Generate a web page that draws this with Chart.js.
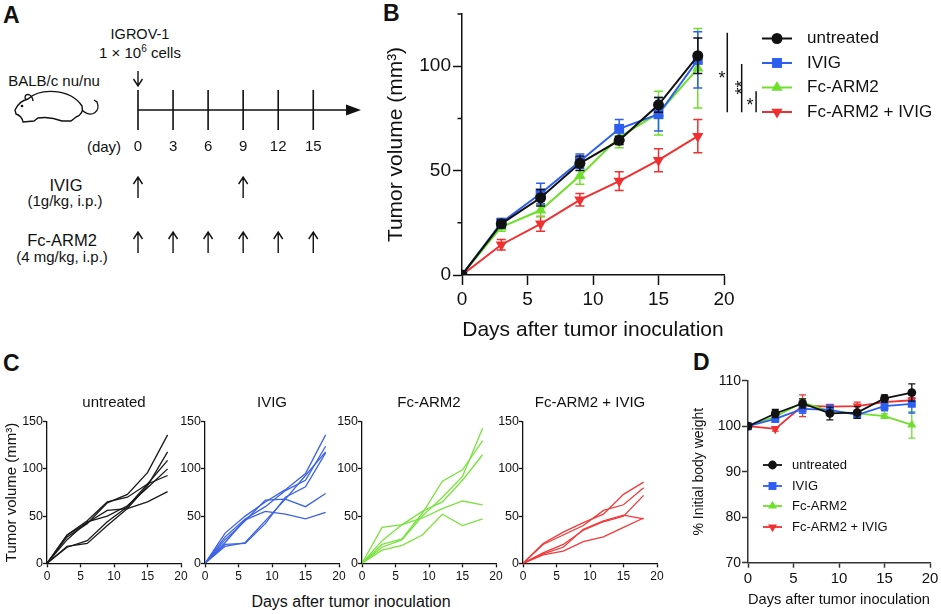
<!DOCTYPE html>
<html lang="en">
<head>
    <meta charset="UTF-8">
    <title>Fc-ARM2 and IVIG in IGROV-1 xenografts</title>
    <script src="https://cdn.jsdelivr.net/npm/chart.js"></script>
    <style>
        body { margin: 0; background: #fff; }
        #page { position: relative; width: 941px; height: 614px; overflow: hidden; color: #111;
                font-family: "Liberation Sans", Arial, sans-serif; }
        #page canvas { position: absolute; }
        .t { position: absolute; transform: translate(-50%, -50%); line-height: 1; white-space: nowrap; font-size: 15px; }
        .t sup { font-size: 10px; line-height: 0; }
        .panel { position: absolute; font-weight: bold; font-size: 23px; line-height: 1; }
    </style>
</head>
<body>
<div id="page">
    <div class="panel" style="left:3px;top:4px">A</div>
    <div class="panel" style="left:383px;top:2px">B</div>
    <div class="panel" style="left:3px;top:352px">C</div>
    <div class="panel" style="left:693px;top:351px">D</div>

    <div class="t" style="left:140px;top:34px;font-size:14.5px">IGROV-1</div>
    <div class="t" style="left:140px;top:52px">1 × 10<sup>6</sup> cells</div>
    <div class="t" style="left:54px;top:80px">BALB/c nu/nu</div>
    <div class="t" style="left:104px;top:146px">(day)</div>
    <div class="t" style="left:66px;top:185px;font-size:16.5px">IVIG</div>
    <div class="t" style="left:65px;top:200px">(1g/kg, i.p.)</div>
    <div class="t" style="left:62px;top:240px;font-size:16.5px">Fc-ARM2</div>
    <div class="t" style="left:62px;top:256px">(4 mg/kg, i.p.)</div>
    <div class="t" style="left:351px;top:602px;font-size:16px">Days after tumor inoculation</div>

    <canvas id="cA" width="370" height="290" style="left:0;top:0"></canvas>
    <canvas id="cB" width="571" height="345" style="left:370px;top:0"></canvas>
    <canvas id="cD" width="261" height="264" style="left:680px;top:350px"></canvas>
</div>

<script>
    // panel A schedule
    const timelineDays = [0, 3, 6, 9, 12, 15];
    const ivigDoseDays = [0, 9];
    const fcDoseDays = [0, 3, 6, 9, 12, 15];

    const groups = ['untreated', 'IVIG', 'Fc-ARM2', 'Fc-ARM2 + IVIG'];
    const days = [0, 3, 6, 9, 12, 15, 18];

    // panel B: mean tumor volume (mm3) and SEM
    const volUntreated = [0, 24.5, 37, 53.5, 64.5, 81.5, 105];
    const volIvig = [0, 25, 39, 54.5, 70, 77, 103];
    const volFc = [0, 23, 31, 47.5, 66, 77.5, 99];
    const volFcIvig = [0, 14.5, 24.5, 36, 45, 55, 66.5];
    const semUntreated = [0, 2, 4, 3.5, 2, 3.5, 8.5];
    const semIvig = [0, 2, 5, 3.5, 4.5, 8, 13.5];
    const semFc = [0, 2, 3, 4, 5, 10.5, 19];
    const semFcIvig = [0, 2.5, 3.5, 3, 4.5, 5.5, 8];

    // significance brackets right of panel B (x in days, y in mm3)
    const sigX = [20.25, 21.35, 22.45];
    const sigFrom = [78, 78, 78];
    const sigTo = [116, 101, 88];
    const sigText = ['*', '**', '*'];
    const sigTextX = [19.85, 21.0, 21.98];
    const sigTextY = [96.5, 89.8, 83.8];

    // panel C: individual mice
    const indivUntreated = [
        [0, 30, 45, 65, 70, 84, 93],
        [0, 28, 42, 64, 73, 96, 136],
        [0, 18, 21, 40, 58, 82, 118],
        [0, 17, 24, 44, 60, 84, 109],
        [0, 30, 43, 56, 58, 65, 76],
        [0, 25, 44, 50, 61, 80, 100]
    ];
    const indivIvig = [
        [0, 32, 50, 65, 78, 95, 136],
        [0, 28, 47, 60, 77, 88, 124],
        [0, 18, 22, 45, 68, 93, 118],
        [0, 20, 21, 42, 70, 81, 117],
        [0, 25, 45, 67, 68, 60, 74],
        [0, 22, 46, 55, 52, 47, 54]
    ];
    const indivFc = [
        [0, 20, 26, 53, 87, 99, 130],
        [0, 17, 25, 50, 70, 92, 143],
        [0, 24, 41, 55, 65, 88, 115],
        [0, 38, 41, 48, 58, 66, 62],
        [0, 14, 19, 30, 52, 40, 47]
    ];
    const indivFcIvig = [
        [0, 21, 33, 43, 52, 73, 86],
        [0, 20, 30, 40, 56, 62, 80],
        [0, 10, 17, 36, 45, 51, 47],
        [0, 9, 13, 23, 28, 38, 48],
        [0, 11, 20, 35, 44, 50, 72]
    ];

    // panel D: % initial body weight and SEM
    const wtUntreated = [100, 102.8, 105.0, 102.8, 103.0, 106.1, 107.4];
    const wtIvig = [100, 101.6, 103.8, 103.6, 102.5, 104.4, 104.9];
    const wtFc = [100, 102.1, 105.2, 103.3, 102.8, 102.2, 100.3];
    const wtFcIvig = [100, 99.4, 104.5, 104.3, 104.4, 105.3, 105.7];
    const wtErrUntreated = [0, 0.9, 1.0, 1.4, 1.3, 0.8, 1.9];
    const wtErrIvig = [0, 0.6, 1.0, 1.0, 0.8, 1.0, 2.0];
    const wtErrFc = [0, 0.6, 0.8, 0.6, 0.5, 0.5, 2.9];
    const wtErrFcIvig = [0, 0.5, 2.4, 0.5, 0.9, 0.6, 0.6];

    const FONT = '"Liberation Sans", Arial, sans-serif';
    Chart.defaults.font.family = FONT;
    Chart.defaults.color = '#111';
    Chart.defaults.animation = false;
    Chart.defaults.events = [];
    Chart.defaults.plugins.legend.display = false;
    Chart.defaults.plugins.tooltip.enabled = false;

    const styles = [
        { color: '#111111', pointStyle: 'circle', radius: 5.5, rotation: 0 },
        { color: '#2c5ef0', pointStyle: 'rect', radius: 7, rotation: 0 },
        { color: '#6ee02c', pointStyle: 'triangle', radius: 6.5, rotation: 0 },
        { color: '#f03030', pointStyle: 'triangle', radius: 6.5, rotation: 180 }
    ];

    function series(label, values, errors, style, scale, width) {
        return {
            label: label,
            data: days.map((d, i) => ({ x: d, y: values[i] })),
            errors: errors,
            borderColor: style.color,
            backgroundColor: style.color,
            borderWidth: width,
            tension: 0,
            pointStyle: style.pointStyle,
            pointRotation: style.rotation,
            pointRadius: style.radius * scale,
            pointBackgroundColor: style.color,
            pointBorderWidth: 0
        };
    }

    const errorBars = {
        id: 'errorBars',
        beforeDatasetDraw(chart, args, opts) {
            const ds = chart.data.datasets[args.index];
            if (!ds.errors) return;
            const { ctx, scales: { x, y } } = chart;
            ctx.save();
            ctx.strokeStyle = ds.borderColor;
            ctx.lineWidth = opts.width;
            ctx.beginPath();
            ds.data.forEach((p, j) => {
                const e = ds.errors[j];
                if (!e) return;
                const px = x.getPixelForValue(p.x);
                const hi = y.getPixelForValue(p.y + e);
                const lo = y.getPixelForValue(p.y - e);
                ctx.moveTo(px, hi); ctx.lineTo(px, lo);
                ctx.moveTo(px - opts.cap, hi); ctx.lineTo(px + opts.cap, hi);
                ctx.moveTo(px - opts.cap, lo); ctx.lineTo(px + opts.cap, lo);
            });
            ctx.stroke();
            ctx.restore();
        }
    };

    const lineLegend = {
        id: 'lineLegend',
        afterDraw(chart, args, opts) {
            const ctx = chart.ctx;
            chart.data.datasets.forEach((ds, i) => {
                const y = opts.rows[i];
                ctx.save();
                ctx.strokeStyle = ds.borderColor;
                ctx.lineWidth = ds.borderWidth;
                ctx.beginPath();
                ctx.moveTo(opts.x0, y);
                ctx.lineTo(opts.x0 + opts.lineLen, y);
                ctx.stroke();
                ctx.fillStyle = ds.borderColor;
                Chart.helpers.drawPoint(ctx, { pointStyle: ds.pointStyle, rotation: ds.pointRotation,
                    radius: ds.pointRadius, borderWidth: 0 }, opts.x0 + opts.lineLen / 2, y);
                ctx.fillStyle = '#111';
                ctx.font = opts.font;
                ctx.textBaseline = 'middle';
                ctx.fillText(ds.label, opts.textX, y);
                ctx.restore();
            });
        }
    };

    // minor y ticks and significance brackets for panel B
    const bExtras = {
        id: 'bExtras',
        afterDraw(chart) {
            const { ctx, scales: { x, y } } = chart;
            ctx.save();
            ctx.strokeStyle = '#111';
            ctx.lineWidth = 1.5;
            ctx.beginPath();
            [25, 75, 125].forEach(v => {
                const py = y.getPixelForValue(v);
                ctx.moveTo(x.left - 4.5, py);
                ctx.lineTo(x.left, py);
            });
            sigX.forEach((sx, i) => {
                const px = x.getPixelForValue(sx);
                ctx.moveTo(px, y.getPixelForValue(sigTo[i]));
                ctx.lineTo(px, y.getPixelForValue(sigFrom[i]));
            });
            ctx.stroke();
            ctx.fillStyle = '#111';
            ctx.font = '18px ' + FONT;
            ctx.textAlign = 'center';
            ctx.textBaseline = 'alphabetic';
            sigText.forEach((s, i) => {
                const px = x.getPixelForValue(sigTextX[i]);
                const py = y.getPixelForValue(sigTextY[i]);
                if (s.length > 1) {
                    ctx.save();
                    ctx.translate(px + 10.5, py);
                    ctx.rotate(-Math.PI / 2);
                    ctx.fillText(s, 0, 0);
                    ctx.restore();
                } else {
                    ctx.fillText(s, px, py + 10.5);
                }
            });
            ctx.restore();
        }
    };

    function arrow(ctx, x, y1, y2, up) {
        const tip = up ? y1 : y2;
        const back = up ? tip + 7 : tip - 7;
        ctx.beginPath();
        ctx.moveTo(x, y1); ctx.lineTo(x, y2);
        ctx.moveTo(x - 4.5, back); ctx.lineTo(x, tip); ctx.lineTo(x + 4.5, back);
        ctx.stroke();
    }

    function drawMouse(ctx) {
        ctx.beginPath();
        ctx.moveTo(15, 110);
        ctx.quadraticCurveTo(19, 101, 28, 99);
        ctx.bezierCurveTo(40, 88, 70, 88, 82, 106);
        ctx.quadraticCurveTo(84, 114, 76, 117);
        ctx.lineTo(71, 121);
        ctx.lineTo(62, 121);
        ctx.quadraticCurveTo(50, 116, 38, 118);
        ctx.lineTo(34, 121);
        ctx.lineTo(23, 122);
        ctx.quadraticCurveTo(22, 116, 16, 114);
        ctx.closePath();
        ctx.moveTo(26, 100);
        ctx.bezierCurveTo(22, 93, 32, 92, 33, 101);
        ctx.moveTo(82, 110);
        ctx.bezierCurveTo(92, 119, 101, 111, 97, 102);
        ctx.lineTo(94, 100);
        ctx.stroke();
        ctx.beginPath();
        ctx.arc(22, 106, 1.3, 0, Math.PI * 2);
        ctx.fill();
    }

    const schematic = {
        id: 'schematic',
        afterDraw(chart) {
            const { ctx, chartArea: a, scales: { x } } = chart;
            const mid = (a.top + a.bottom) / 2;
            ctx.save();
            ctx.strokeStyle = '#111';
            ctx.fillStyle = '#111';
            ctx.lineWidth = 1.6;
            ctx.beginPath();
            ctx.moveTo(x.getPixelForValue(0), mid);
            ctx.lineTo(a.right - 12, mid);
            timelineDays.forEach(d => {
                const px = x.getPixelForValue(d);
                ctx.moveTo(px, a.top);
                ctx.lineTo(px, a.bottom);
            });
            ctx.stroke();
            ctx.beginPath();
            ctx.moveTo(a.right + 1, mid);
            ctx.lineTo(a.right - 14, mid - 5.5);
            ctx.lineTo(a.right - 14, mid + 5.5);
            ctx.closePath();
            ctx.fill();
            ctx.lineWidth = 1.4;
            arrow(ctx, x.getPixelForValue(0), 71, 86, false);
            ivigDoseDays.forEach(d => arrow(ctx, x.getPixelForValue(d), 177, 198, true));
            fcDoseDays.forEach(d => arrow(ctx, x.getPixelForValue(d), 232, 253, true));
            drawMouse(ctx);
            ctx.restore();
        }
    };

    new Chart(document.getElementById('cA'), {
        type: 'scatter',
        data: { datasets: [] },
        options: {
            responsive: false,
            layout: { padding: { left: 138, right: 10, top: 90, bottom: 130 } },
            scales: {
                x: {
                    type: 'linear', min: 0, max: 19,
                    afterBuildTicks: s => { s.ticks = timelineDays.map(v => ({ value: v })); },
                    afterFit: s => { s.height = 30; },
                    grid: { display: false, drawTicks: false },
                    border: { display: false },
                    ticks: { font: { size: 15 }, padding: 8, maxRotation: 0, autoSkip: false }
                },
                y: { display: false, min: 0, max: 1 }
            }
        },
        plugins: [schematic]
    });

    new Chart(document.getElementById('cB'), {
        type: 'line',
        data: {
            datasets: [
                series(groups[0], volUntreated, semUntreated, styles[0], 1, 2),
                series(groups[1], volIvig, semIvig, styles[1], 1, 2),
                series(groups[2], volFc, semFc, styles[2], 1, 2),
                series(groups[3], volFcIvig, semFcIvig, styles[3], 1, 2)
            ]
        },
        options: {
            responsive: false,
            layout: { padding: { left: 0, right: 217, top: 14, bottom: 0 } },
            plugins: {
                errorBars: { width: 1.5, cap: 4.5 },
                lineLegend: { x0: 392, lineLen: 30, textX: 437, rows: [38.5, 63, 87.5, 112], font: '17px ' + FONT }
            },
            scales: {
                x: {
                    type: 'linear', min: 0, max: 20,
                    afterFit: s => { s.height = 70; },
                    ticks: { stepSize: 5, font: { size: 19 }, padding: 3 },
                    grid: { drawOnChartArea: false, tickLength: 10, tickWidth: 1.5, tickColor: '#111' },
                    border: { color: '#111', width: 1.5 },
                    title: { display: true, text: 'Days after tumor inoculation', font: { size: 21 }, padding: { top: 0, bottom: 2 } }
                },
                y: {
                    min: 0, max: 125,
                    afterFit: s => { s.width = 92; },
                    ticks: { stepSize: 25, font: { size: 19 }, padding: 2, callback: v => v % 50 === 0 ? v : '' },
                    grid: { drawOnChartArea: false, tickLength: 9, tickWidth: 1.5,
                            tickColor: c => c.tick && c.tick.value % 50 ? 'rgba(0,0,0,0)' : '#111' },
                    border: { color: '#111', width: 1.5 },
                    title: { display: true, text: 'Tumor volume (mm³)', font: { size: 21 }, padding: { top: 14, bottom: 0 } }
                }
            }
        },
        plugins: [errorBars, lineLegend, bExtras]
    });

    const cPanels = [
        { lines: indivUntreated, color: '#1a1a1a' },
        { lines: indivIvig, color: '#3b62e6' },
        { lines: indivFc, color: '#78e33c' },
        { lines: indivFcIvig, color: '#f23a3a' }
    ];
    const cAxisX = [47, 205, 362, 523];
    const page = document.getElementById('page');

    cPanels.forEach((p, k) => {
        const yw = k === 0 ? 47 : 36;
        const canvas = document.createElement('canvas');
        canvas.width = yw + 134 + 16;
        canvas.height = 200;
        canvas.style.left = (cAxisX[k] - yw) + 'px';
        canvas.style.top = '388px';
        page.appendChild(canvas);
        new Chart(canvas, {
            type: 'line',
            data: {
                datasets: p.lines.map(vals => ({
                    data: days.map((d, i) => ({ x: d, y: vals[i] })),
                    borderColor: p.color, borderWidth: 1.3, pointRadius: 0, tension: 0
                }))
            },
            options: {
                responsive: false,
                layout: { padding: { left: 0, right: 16, top: 0, bottom: 0 } },
                plugins: {
                    title: { display: true, fullSize: false, text: groups[k], font: { size: 15, weight: 'normal' },
                             color: '#111', padding: { top: 6, bottom: 9.7 } }
                },
                scales: {
                    x: {
                        type: 'linear', min: 0, max: 20,
                        afterFit: s => { s.height = 24.7; },
                        ticks: { stepSize: 5, font: { size: 12 }, padding: 2 },
                        grid: { drawOnChartArea: false, tickLength: 4, tickWidth: 1.3, tickColor: '#111' },
                        border: { color: '#111', width: 1.3 }
                    },
                    y: {
                        min: 0, max: 150,
                        afterFit: s => { s.width = yw; },
                        ticks: { stepSize: 50, font: { size: 12.5 }, padding: 0 },
                        grid: { drawOnChartArea: false, tickLength: 4, tickWidth: 1.3, tickColor: '#111' },
                        border: { color: '#111', width: 1.3 },
                        title: { display: k === 0, text: 'Tumor volume (mm³)', font: { size: 15 }, padding: { top: 3, bottom: 0 } }
                    }
                }
            }
        });
    });

    new Chart(document.getElementById('cD'), {
        type: 'line',
        data: {
            datasets: [
                series(groups[0], wtUntreated, wtErrUntreated, styles[0], 0.8, 1.8),
                series(groups[1], wtIvig, wtErrIvig, styles[1], 0.8, 1.8),
                series(groups[2], wtFc, wtErrFc, styles[2], 0.8, 1.8),
                series(groups[3], wtFcIvig, wtErrFcIvig, styles[3], 0.8, 1.8)
            ]
        },
        options: {
            responsive: false,
            layout: { padding: { left: 0, right: 11, top: 30.7, bottom: 0 } },
            plugins: {
                errorBars: { width: 1.3, cap: 3.5 },
                lineLegend: { x0: 83, lineLen: 19, textX: 112, rows: [115, 136, 156, 177], font: '13px ' + FONT }
            },
            scales: {
                x: {
                    type: 'linear', min: 0, max: 20,
                    afterFit: s => { s.height = 51.3; },
                    ticks: { stepSize: 5, font: { size: 15 }, padding: 2 },
                    grid: { drawOnChartArea: false, tickLength: 5, tickWidth: 1.5, tickColor: '#333' },
                    border: { color: '#333', width: 1.5 },
                    title: { display: true, text: 'Days after tumor inoculation', font: { size: 15 }, padding: { top: 0, bottom: 5 } }
                },
                y: {
                    min: 70, max: 110,
                    afterFit: s => { s.width = 68; },
                    ticks: { stepSize: 10, font: { size: 14 }, padding: 1 },
                    grid: { drawOnChartArea: false, tickLength: 6, tickWidth: 1.5, tickColor: '#333' },
                    border: { color: '#333', width: 1.5 },
                    title: { display: true, text: '% Initial body weight', font: { size: 14 }, padding: { top: 10.6, bottom: 0 } }
                }
            }
        },
        plugins: [errorBars, lineLegend]
    });
</script>
</body>
</html>
